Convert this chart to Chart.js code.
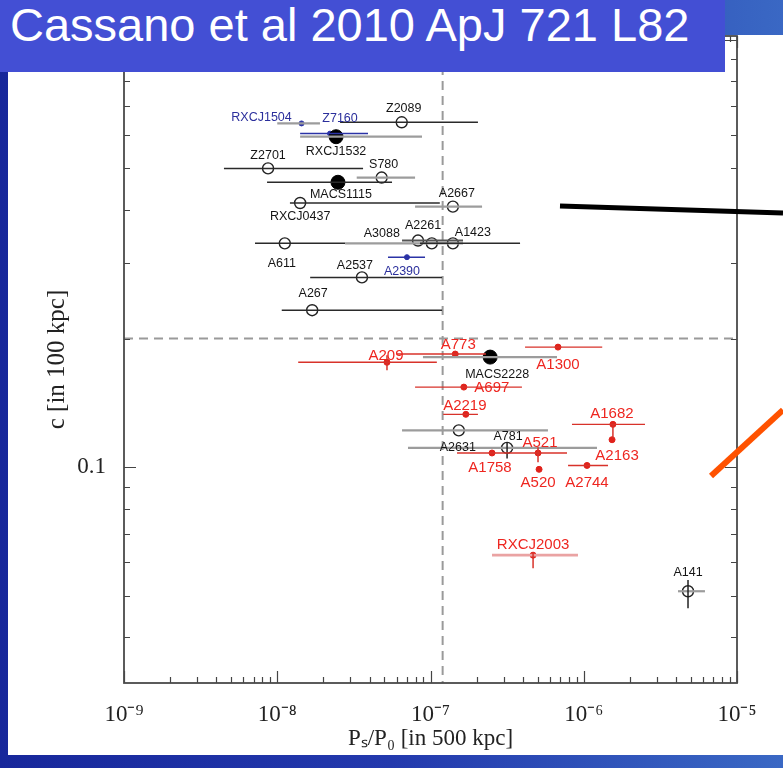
<!DOCTYPE html>
<html>
<head>
<meta charset="utf-8">
<script src="https://cdn.jsdelivr.net/npm/chart.js@4.4.0/dist/chart.umd.min.js"></script>
<style>
  html, body { margin: 0; padding: 0; }
  body {
    width: 783px; height: 768px; overflow: hidden; position: relative;
    background: linear-gradient(90deg, #17279b 0%, #2339ad 50%, #3a68c4 100%);
  }
  #panel { position: absolute; left: 8px; top: 35px; width: 775px; height: 720px; background: #fff; }
  #title {
    position: absolute; left: 0; top: 0; width: 725px; height: 72px; z-index: 2;
    background: #434fd4; color: #fff; box-sizing: border-box; padding-left: 10px;
    font-family: 'Liberation Sans', Arial, sans-serif; font-size: 47px; line-height: 50px;
    white-space: nowrap;
  }
  canvas { position: absolute; left: 0; top: 0; z-index: 1; }
</style>
</head>
<body>
<div id="panel"></div>
<div id="title">Cassano et al 2010 ApJ 721 L82</div>
<canvas id="chart" width="783" height="768"></canvas>
<script>
// clusters
const clusters = ['Z2089','RXCJ1504','Z7160','RXCJ1532','Z2701','S780','MACS1115','RXCJ0437','A2667','A611',
  'A3088','A2261','A1423','A2390','A2537','A267','A773','MACS2228','A209','A1300',
  'A697','A2219','A2631','A781','A1758','A521','A520','A1682','A2163','A2744','RXCJ2003','A141'];

// P_s/P_0 in 500 kpc
const psRatio = [6.49e-8, 1.44e-8, 2.21e-8, 2.42e-8, 8.71e-9, 4.80e-8, 2.49e-8, 1.41e-8, 1.40e-7, 1.12e-8,
  1.02e-7, 8.29e-8, 1.40e-7, 7.02e-8, 3.57e-8, 1.69e-8, 1.45e-7, 2.45e-7, 5.20e-8, 6.79e-7,
  1.65e-7, 1.70e-7, 1.53e-7, 3.16e-7, 2.52e-7, 5.03e-7, 5.11e-7, 1.55e-6, 1.53e-6, 1.05e-6, 4.67e-7, 4.79e-6];
const psLow = [2.57e-8, 1.0e-8, 1.41e-8, 1.41e-8, 4.49e-9, 3.3e-8, 8.58e-9, 1.21e-8, 7.93e-8, 7.16e-9,
  2.77e-8, 6.52e-8, 8.54e-8, 5.28e-8, 1.64e-8, 1.07e-8, 6.0e-8, 8.93e-8, 1.37e-8, 4.14e-7,
  7.93e-8, 1.21e-7, 6.52e-8, 7.13e-8, 1.49e-7, null, null, 8.38e-7, null, 7.90e-7, 2.52e-7, 4.12e-6];
const psHigh = [2.04e-7, 1.9e-8, 3.91e-8, 8.80e-8, 3.63e-8, 7.93e-8, 5.61e-8, 1.15e-7, 2.17e-7, 2.77e-8,
  1.63e-7, 1.63e-7, 3.84e-7, 9.21e-8, 1.19e-7, 1.19e-7, 2.3e-7, 6.69e-7, 1.10e-7, 1.32e-6,
  3.95e-7, 2.04e-7, 5.84e-7, 1.22e-6, 7.78e-7, null, null, 2.51e-6, null, 1.44e-6, 9.17e-7, 6.18e-6];

// c in 100 kpc
const conc = [0.641, 0.637, 0.603, 0.593, 0.500, 0.476, 0.464, 0.415, 0.407, 0.334,
  0.334, 0.339, 0.334, 0.310, 0.278, 0.233, 0.184, 0.181, 0.176, 0.191,
  0.154, 0.133, 0.122, 0.111, 0.108, 0.108, 0.0989, 0.126, 0.116, 0.101, 0.0623, 0.0513];
const cLow = [null, null, null, null, null, null, null, null, null, null,
  null, null, null, null, null, null, null, null, 0.1687, null,
  null, null, null, 0.1049, null, 0.1027, null, 0.117, null, null, 0.0581, 0.0468];
const cHigh = [null, null, null, null, null, null, null, null, null, null,
  null, null, null, null, null, null, null, null, 0.1827, null,
  null, null, null, 0.1144, null, 0.1114, null, 0.126, null, null, 0.0633, 0.0545];

// marker kind and error bar tone per cluster
const markerKind = ['open','blue','blue','filled','open','open','filled','open','open','open',
  'open','open','open','blue','open','open','red','filled','red','red',
  'red','red','open','open','red','red','red','red','red','red','red','open'];
const barTone = ['black','gray','blue','gray','black','gray','black','black','gray','black',
  'gray','dark','black','blue','black','black','red','gray','red','red',
  'red','red','gray','gray','red','red','red','red','red','red','pink','gray'];

// label offsets from the point, in px
const labelOffsets = [[2,-14],[-40,-6],[10,-15],[0,15],[0,-13],[2,-13],[3,12],[0,14],[4,-13],[-3,20],
  [-50,-10],[5,-15],[20,-11],[-5,14],[-7,-12],[1,-17],[3,-9],[7,17],[-1,-6],[0,18],
  [28,1],[-1,-8],[-1,17],[1,-11],[-2,15],[2,-10],[-1,14],[-1,-11],[5,16],[0,17],[0,-10],[0,-19]];

// reference lines and axis ticks
const psThreshold = 1.2e-7;
const cThreshold = 0.2;
const xTickValues = [1e-9, 1e-8, 1e-7, 1e-6, 1e-5];
const xTickLabels = ['10\u207B\u2079', '10\u207B\u2078', '10\u207B\u2077', '10\u207B\u2076', '10\u207B\u2075'];
const yTickValues = [0.1];
const yTickLabels = ['0.1'];

const barColors = { black: '#2a2a2a', dark: '#555', gray: '#9c9c9c', red: '#d8322a', blue: '#2b33a6', pink: '#eaa3a3' };
const barWidths = { black: 1.5, dark: 2, gray: 2.2, red: 1.4, blue: 1.5, pink: 2.6 };
const labelColors = { open: '#151515', filled: '#151515', red: '#ee2620', blue: '#2b2f9c' };
const labelFonts = { open: '12.5px "Liberation Sans"', filled: '12.5px "Liberation Sans"', red: '15px "Liberation Sans"', blue: '12.5px "Liberation Sans"' };

function pointsOf(kind) {
  return clusters.map((n, i) => ({ x: psRatio[i], y: conc[i], k: markerKind[i] })).filter(p => p.k === kind);
}

function matchTick(v, values, labels) {
  for (let i = 0; i < values.length; i++) {
    if (Math.abs(v - values[i]) / values[i] < 1e-6) return labels[i];
  }
  return '';
}

const framePlugin = {
  id: 'frame',
  beforeDatasetsDraw(chart) {
    const { ctx, chartArea: a, scales: { x, y } } = chart;
    ctx.save();
    ctx.strokeStyle = '#9a9a9a';
    ctx.lineWidth = 2;
    ctx.setLineDash([9, 6]);
    const vx = x.getPixelForValue(psThreshold);
    ctx.beginPath(); ctx.moveTo(vx, a.top); ctx.lineTo(vx, a.bottom); ctx.stroke();
    const hy = y.getPixelForValue(cThreshold);
    ctx.beginPath(); ctx.moveTo(a.left, hy); ctx.lineTo(a.right, hy); ctx.stroke();
    ctx.setLineDash([]);

    // inward ticks on all four sides
    ctx.strokeStyle = '#444';
    ctx.lineWidth = 1.2;
    ctx.beginPath();
    for (let e = -9; e <= -5; e++) {
      for (let m = 1; m <= 9; m++) {
        const v = m * Math.pow(10, e);
        if (v < x.min || v > x.max) continue;
        const px = Math.round(x.getPixelForValue(v)) + 0.5;
        const len = m === 1 ? 12 : 6;
        ctx.moveTo(px, a.bottom); ctx.lineTo(px, a.bottom - len);
        ctx.moveTo(px, a.top); ctx.lineTo(px, a.top + len);
      }
    }
    for (let e = -2; e <= 0; e++) {
      for (let m = 1; m <= 9; m++) {
        const v = m * Math.pow(10, e);
        if (v < y.min || v > y.max) continue;
        const py = Math.round(y.getPixelForValue(v)) + 0.5;
        const len = m === 1 ? 12 : 6;
        ctx.moveTo(a.left, py); ctx.lineTo(a.left + len, py);
        ctx.moveTo(a.right, py); ctx.lineTo(a.right - len, py);
      }
    }
    ctx.stroke();
    ctx.strokeStyle = '#4a4a4a';
    ctx.lineWidth = 1.8;
    ctx.strokeRect(a.left, a.top, a.width, a.height);
    ctx.restore();
  }
};

const errorBarPlugin = {
  id: 'errorBars',
  afterDatasetsDraw(chart) {
    const { ctx, scales: { x, y } } = chart;
    ctx.save();
    clusters.forEach((name, i) => {
      const tone = barTone[i];
      ctx.strokeStyle = barColors[tone];
      ctx.lineWidth = barWidths[tone];
      const py = y.getPixelForValue(conc[i]);
      const px = x.getPixelForValue(psRatio[i]);
      if (psLow[i] !== null) {
        ctx.beginPath();
        ctx.moveTo(x.getPixelForValue(psLow[i]), py);
        ctx.lineTo(x.getPixelForValue(psHigh[i]), py);
        ctx.stroke();
      }
      if (cLow[i] !== null) {
        ctx.strokeStyle = markerKind[i] === 'red' ? barColors.red : '#222';
        ctx.lineWidth = 1.5;
        ctx.beginPath();
        ctx.moveTo(px, y.getPixelForValue(cLow[i]));
        ctx.lineTo(px, y.getPixelForValue(cHigh[i]));
        ctx.stroke();
      }
    });
    // labels
    ctx.textAlign = 'center';
    ctx.textBaseline = 'middle';
    clusters.forEach((name, i) => {
      const k = markerKind[i];
      ctx.fillStyle = labelColors[k];
      ctx.font = labelFonts[k];
      ctx.fillText(name, x.getPixelForValue(psRatio[i]) + labelOffsets[i][0], y.getPixelForValue(conc[i]) + labelOffsets[i][1]);
    });
    ctx.restore();
  }
};

// slide annotation strokes
const slidePlugin = {
  id: 'slide',
  afterDraw(chart) {
    const ctx = chart.ctx;
    ctx.save();
    ctx.lineCap = 'butt';
    ctx.strokeStyle = '#000';
    ctx.lineWidth = 5;
    ctx.beginPath(); ctx.moveTo(560, 206); ctx.lineTo(783, 213); ctx.stroke();
    ctx.strokeStyle = '#ff5200';
    ctx.lineWidth = 6;
    ctx.beginPath(); ctx.moveTo(711, 476); ctx.lineTo(783, 410); ctx.stroke();
    ctx.restore();
  }
};

new Chart(document.getElementById('chart').getContext('2d'), {
  type: 'scatter',
  data: {
    datasets: [
      { data: pointsOf('open'), pointStyle: 'circle', pointRadius: 5.5, backgroundColor: '#fff', borderColor: '#222', borderWidth: 1.4 },
      { data: pointsOf('filled'), pointStyle: 'circle', pointRadius: 7, backgroundColor: '#000', borderColor: '#000', borderWidth: 1 },
      { data: pointsOf('red'), pointStyle: 'circle', pointRadius: 3, backgroundColor: '#e0221b', borderColor: '#e0221b', borderWidth: 1 },
      { data: pointsOf('blue'), pointStyle: 'circle', pointRadius: 2.5, backgroundColor: '#2b33a6', borderColor: '#2b33a6', borderWidth: 1 }
    ]
  },
  options: {
    responsive: false,
    animation: false,
    layout: { padding: { top: 36, right: 46, left: 0, bottom: 0 } },
    plugins: { legend: { display: false }, tooltip: { enabled: false } },
    scales: {
      x: {
        type: 'logarithmic',
        min: 1e-9,
        max: 1e-5,
        grid: { display: false },
        border: { display: false },
        ticks: {
          autoSkip: false, maxRotation: 0, padding: 10, color: '#222',
          font: { family: '"Liberation Serif", serif', size: 23 },
          callback: (v) => matchTick(v, xTickValues, xTickLabels)
        },
        title: {
          display: true, text: 'P\u209B/P\u2080 [in 500 kpc]', color: '#222',
          font: { family: '"Liberation Serif", serif', size: 23 },
          padding: { top: 0, bottom: 15 }
        },
        afterFit(s) { s.height = 85; s.paddingLeft = 0; s.paddingRight = 0; }
      },
      y: {
        type: 'logarithmic',
        min: 0.0313,
        max: 1.02,
        grid: { display: false },
        border: { display: false },
        ticks: {
          autoSkip: false, padding: 10, color: '#222',
          font: { family: '"Liberation Serif", serif', size: 23 },
          callback: (v) => matchTick(v, yTickValues, yTickLabels)
        },
        title: {
          display: true, text: 'c [in 100 kpc]', color: '#222',
          font: { family: '"Liberation Serif", serif', size: 25 },
          padding: { top: 42, bottom: 0 }
        },
        afterFit(s) { s.width = 124; s.paddingTop = 0; s.paddingBottom = 0; }
      }
    }
  },
  plugins: [framePlugin, errorBarPlugin, slidePlugin]
});
</script>
</body>
</html>
